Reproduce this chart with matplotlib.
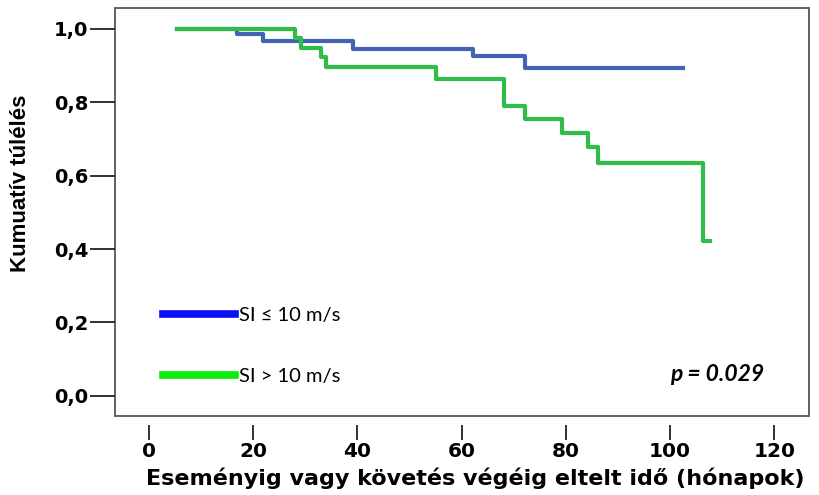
import matplotlib
matplotlib.use('Agg')
from matplotlib import pyplot as plt
from matplotlib.lines import Line2D

###### Data ######

# SI <= 10 m/s group (time in months, cumulative survival)
blueTime     = [5.4, 16.9, 21.9, 39.2, 62.2, 72.2, 102.5]
blueSurv     = [1.0, 0.985, 0.966, 0.946, 0.925, 0.893, 0.893]

# SI > 10 m/s group
greenTime    = [5.4, 28.0, 29.3, 33.1, 34.1, 55.1, 68.1, 72.2, 79.2, 84.2, 86.2, 106.3, 107.7]
greenSurv    = [1.0, 0.976, 0.949, 0.922, 0.895, 0.864, 0.790, 0.754, 0.716, 0.677, 0.634, 0.423, 0.423]

legendLabels = ['SI \u2264 10 m/s', 'SI > 10 m/s']
xTicks       = [0, 20, 40, 60, 80, 100, 120]
yTicks       = [0.0, 0.2, 0.4, 0.6, 0.8, 1.0]
pText        = 'p = 0.029'

###### Plot ######

fig = plt.figure(figsize=(8.2, 4.95), dpi=100)
ax = fig.add_axes([0.140, 0.160, 0.847, 0.824])

ax.step(blueTime, blueSurv, where='post', color='#4262b4', linewidth=3.0)
ax.step(greenTime, greenSurv, where='post', color='#2fbc48', linewidth=3.0)

ax.set_xlim(-6.5, 126.7)
ax.set_ylim(-0.0545, 1.057)

# box drawn from the axes patch, spines hidden so ticks can sit detached
ax.patch.set_edgecolor('#555555')
ax.patch.set_linewidth(1.3)
for side in ['top', 'right', 'left', 'bottom']:
    ax.spines[side].set_visible(False)
ax.spines['bottom'].set_position(('outward', 6.5))

ax.set_xticks(xTicks)
ax.set_xticklabels([str(t) for t in xTicks])
ax.set_yticks(yTicks)
ax.set_yticklabels([('%.1f' % v).replace('.', ',') for v in yTicks])

ax.tick_params(axis='x', direction='out', length=11, width=1.3, color='#222222', pad=1.5)
ax.tick_params(axis='y', direction='out', length=18, width=1.3, color='#222222', pad=1)
for lab in ax.get_xticklabels():
    lab.set_fontproperties({'family': 'DejaVu Sans', 'weight': 'bold', 'size': 14.5})
for lab in ax.get_yticklabels():
    lab.set_fontproperties({'family': 'DejaVu Sans', 'weight': 'bold', 'size': 14})

ax.set_xlabel('Eseményig vagy követés végéig eltelt idő (hónapok)', fontsize=16,
              fontweight='bold', family=['DejaVu Sans'])
ax.xaxis.set_label_coords(0.519, -0.126)
ax.set_ylabel('Kumuatív túlélés', fontsize=16, fontweight='bold',
              family=['Liberation Sans Narrow', 'Liberation Sans', 'DejaVu Sans'])
ax.yaxis.set_label_coords(-0.121, 0.57)

handles = [Line2D([], [], color='#0a10ee', linewidth=5.5),
           Line2D([], [], color='#0aee0a', linewidth=5.5)]
leg = ax.legend(handles, legendLabels, loc='upper left', bbox_to_anchor=(0.069, 0.268),
                frameon=False, borderpad=0, borderaxespad=0, handlelength=3.6,
                handletextpad=0.2, labelspacing=2.2,
                prop={'family': ['Lato', 'DejaVu Sans'], 'size': 14.5})

ax.text(0.867, 0.102, pText, transform=ax.transAxes, ha='center', va='center',
        fontsize=16.5, fontweight='bold', fontstyle='italic', family=['Lato', 'DejaVu Sans'])

plt.savefig('out.png', dpi=100)
